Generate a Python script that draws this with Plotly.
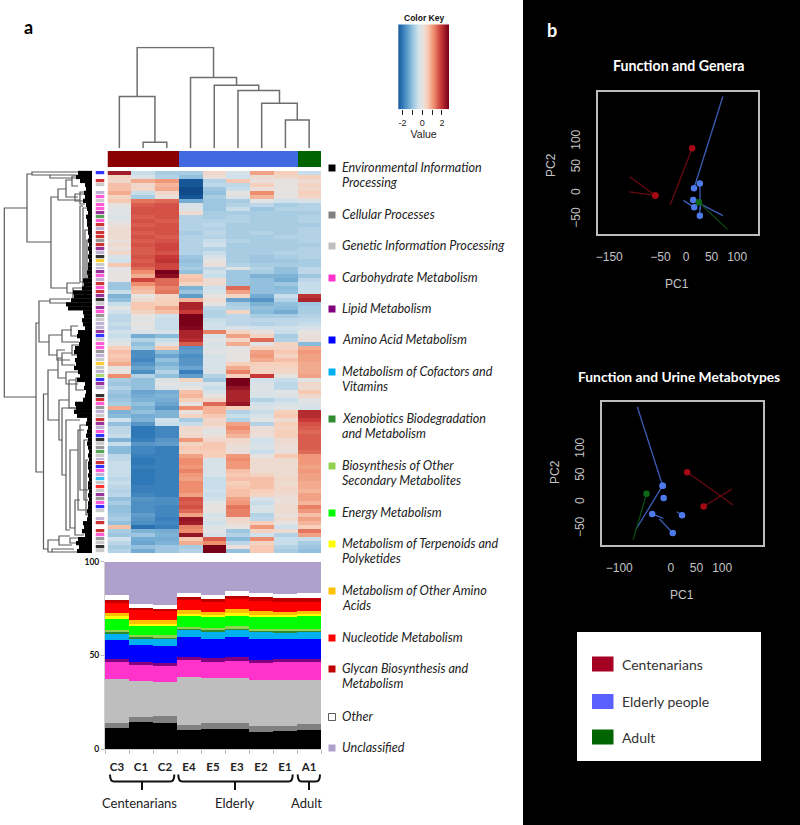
import plotly.graph_objects as go

W, H = 800, 825

# ---------- heatmap ----------
COLUMNS = ["C3", "C1", "C2", "E4", "E5", "E3", "E2", "E1", "A1"]
HEAT = [
[2.3,-.5,-.8,-.8,.3,-.3,1.0,.5,-.5],
[.4,-.2,-.7,-1.0,.1,-.4,.2,.3,.5],
[.3,.9,1.1,-2.5,-.7,.6,.1,0,.2],
[.7,.3,.8,-2.5,-.6,-.6,.5,0,.4],
[.7,.3,.9,-2.7,-.9,-.5,.1,0,.3],
[.9,-.5,.3,-2.7,-1.0,0,1.2,0,.5],
[.4,-.8,.1,-2.5,-.8,-.2,.8,0,.3],
[.6,1.4,1.5,-1.3,-.9,-.8,-.1,-.4,-.3],
[0,1.6,1.7,-.3,-.9,-.7,-.6,-.8,-.7],
[-.1,1.7,1.7,-.2,-.9,-.5,-.9,-.7,-.7],
[-.1,1.7,1.7,.2,-.8,-.8,-.8,-.8,-.8],
[-.2,1.6,1.7,-.7,-.8,-.7,-.8,-.8,-.7],
[-.1,1.7,1.6,-.7,-.7,-.7,-.8,-.8,-.7],
[.1,1.6,1.7,-.7,-.6,-.8,-.8,-.8,-.8],
[.2,1.7,1.7,-.7,-.7,-.8,-.8,-.8,-.7],
[.2,1.6,1.7,-.8,-.6,-.8,-.7,-.8,-.7],
[.2,1.7,1.6,-.7,-.7,-.8,-.8,-.7,-.7],
[.1,1.6,1.7,-.7,-.5,-.7,-.8,-.8,-.7],
[.2,1.7,1.8,-.7,-.4,-.8,-.8,-.8,-.8],
[.1,1.6,1.8,-.7,-.7,-.8,-.8,-.8,-.7],
[.3,1.6,1.7,-.7,-.5,-.8,-.8,-.7,-.7],
[-.3,1.7,1.9,-.9,-.3,-.8,-.9,-.8,-.7],
[-.4,1.6,2.0,-1.0,0,-.8,-.9,-.9,-.8],
[.6,1.7,1.8,-.9,.1,-.7,-.8,-.8,-.8],
[-.1,1.5,1.8,-.8,-.6,-.2,-.7,-1.0,-.6],
[0,1.2,2.8,-1.0,-.4,-.9,-.8,-1.0,-.6],
[0,.9,2.5,.6,-.5,-.9,-1.2,-1.2,-.9],
[0,1.8,1.5,.7,.2,-.9,-1.0,-1.3,-.6],
[-.9,1.2,1.5,.4,.2,-.9,-1.0,-.9,-.5],
[-.9,.8,1.3,-1.2,-.4,1.5,-1.0,-1.1,-.5],
[-.5,.7,1.4,-.9,-.3,1.0,-1.0,-1.0,-.5],
[-1.2,0,.4,-1.5,0,.4,-1.3,-.5,2.0],
[-1.0,.2,.5,.8,.2,-1.4,-1.6,-.7,2.2],
[-.5,.6,.5,2.2,0,-.8,-1.2,-1.0,-.9],
[-.1,.6,.9,2.2,-.6,-.7,-1.0,-1.1,-.8],
[-.4,.4,.7,1.9,-.7,.4,-1.1,-1.3,-.8],
[-.6,0,-.4,2.7,-.7,-.6,-.8,-.8,-.7],
[-.6,-.1,-.5,2.7,-.5,-.6,-.6,-.6,-.6],
[-.5,0,-.5,2.7,-.4,-.6,-.7,-.6,-.5],
[-.6,-.1,-.5,2.6,-.4,-.3,-.4,-.4,-.3],
[-.4,-.2,-.3,2.2,1.3,.4,.1,-.5,0],
[-.5,-1.3,-1.1,2.2,-.3,1.0,.4,-.8,.1],
[-.3,-.7,-.5,2.1,-.1,.3,1.5,-.7,.1],
[-.1,-1.0,-.2,1.6,-.2,.9,-.1,.4,-1.1],
[.5,-.8,.6,-1.6,-.2,-.1,.5,.4,.9],
[.7,-1.7,-1.1,-1.5,-.1,0,1.0,.6,1.1],
[.6,-1.7,-1.4,-1.7,-.3,0,1.1,.4,1.0],
[.7,-1.8,-1.0,-1.6,-.3,0,.9,.7,1.0],
[.9,-1.6,-1.2,-1.6,-.3,.5,.5,.5,.9],
[0,-1.4,-1.0,-1.4,-.3,.9,.4,.4,.9],
[0,-1.7,-.7,-1.9,-.2,1.3,.4,.3,.9],
[1.2,-.7,-1.0,-1.5,-.7,.5,1.9,0,1.0],
[-.8,-1.0,-.2,.4,-.9,2.7,-.4,-.5,-.1],
[-.9,-1.0,-.1,-.2,-.3,2.7,-.2,-.6,.3],
[-.7,-1.0,-.2,0,-.5,2.4,-.2,-.6,.2],
[-.9,-1.4,-1.3,.7,-.3,2.2,-.2,-.1,.6],
[-1.0,-1.3,-1.2,.8,0,2.2,-.3,-.2,.3],
[-.9,-1.2,-1.3,.5,.3,2.2,-.7,-.5,-.1],
[-.8,-1.0,-1.4,0,1.5,2.4,-.4,-.3,-.2],
[.9,-1.2,-1.6,1.2,.8,.5,-.2,-.1,-.3],
[-1.2,-1.0,-1.2,.1,.8,-.7,-.5,.5,2.1],
[-1.1,-1.3,-1.2,.4,.6,-.5,-.3,.6,2.1],
[-.4,-1.2,-.4,-.8,.3,-.7,-.1,.2,1.9],
[-1.0,-1.6,-.5,-.5,.4,1.0,-.7,.5,1.7],
[-.6,-2.0,-1.8,.3,.1,1.2,.1,.4,1.6],
[-.6,-2.0,-1.8,.2,-.1,1.0,.2,.5,1.5],
[-.5,-2.0,-1.8,.3,.1,.8,.1,.5,1.6],
[-1.2,-1.9,-1.6,1.1,.3,.3,-.4,.2,1.6],
[-.5,-1.6,-1.5,.4,.6,.2,-.3,.2,1.6],
[-1.1,-1.8,-1.9,.6,.6,.1,-.3,.1,1.6],
[-1.1,-1.8,-1.9,.5,.5,.1,-.5,.1,1.5],
[-.6,-1.9,-1.9,1.0,.5,1.1,0,.6,1.1],
[-.6,-2.0,-1.9,1.2,-.3,1.2,.2,.2,1.1],
[-.5,-2.0,-1.9,1.2,-.3,1.1,.2,.2,1.1],
[-.5,-1.9,-1.9,1.1,-.3,1.1,.2,.2,1.0],
[-.5,-2.0,-1.9,1.3,-.3,.7,.2,.2,1.1],
[-.5,-2.0,-1.9,1.1,-.3,.6,.4,.2,1.0],
[-.6,-2.0,-1.9,1.0,-.5,.7,.7,.3,1.0],
[-.5,-2.0,-1.9,1.2,-.5,.5,.7,.2,.9],
[-.6,-1.9,-1.9,1.2,-.5,.6,.7,.3,.9],
[-.7,-1.9,-1.9,1.2,-.4,.7,.5,.3,.8],
[-.6,-1.8,-1.9,1.0,-.5,.7,.4,.2,1.0],
[-1.0,-1.6,-1.7,1.7,-.4,1.0,-.3,.1,1.0],
[-.8,-1.7,-1.7,1.6,-.1,1.1,-.5,.1,.8],
[-1.0,-1.7,-1.8,1.7,0,1.4,-.3,.2,1.3],
[-1.0,-1.7,-1.8,1.5,0,1.3,-.3,.2,1.1],
[-.9,-1.5,-1.8,1.0,-.3,1.3,-.7,.1,.7],
[-.8,-1.6,-1.9,2.4,-.2,.3,-.6,.2,1.0],
[-1.0,-1.7,-1.8,2.3,-.4,.2,.5,0,.8],
[.7,-2.1,-1.9,1.3,-.2,0,1.1,-.4,.5],
[-.8,-1.2,-1.3,1.2,-.1,-.9,.4,.2,1.4],
[-.9,-.9,-1.2,2.4,-.3,-.7,-.4,-.7,1.0],
[-.4,-1.3,-1.3,.6,1.6,-1.1,1.2,-.5,-.5],
[-.6,-1.4,-1.2,.9,1.2,-.6,.4,-.5,-.8],
[-.8,-1.0,-.9,-.8,2.7,.1,.6,-.7,-.9],
[-.7,-1.3,-.9,-.7,2.7,-1.0,.6,-.8,-1.0],
]
HEAT_SCALE = [[0, "#0f4a8a"], [.13, "#2f78b8"], [.3, "#8bbcdb"], [.42, "#cfe1ec"], [.5, "#e6e2e0"],
              [.6, "#f8cfb9"], [.72, "#ef8f6f"], [.85, "#c93a38"], [1, "#780018"]]
KEY_VALUES = [-2.44 + i * 0.05 for i in range(104)]
KEY_TICKS = [-2, -1, 0, 1, 2]
KEY_LABELS = ["-2", "", "0", "", "2"]

# ---------- group bar and top dendrogram ----------
GROUP_CODE = [0, 0, 0, 1, 1, 1, 1, 1, 2]
GROUP_COLORS = ["#8b0000", "#4169e1", "#006400"]
# merge: (height, left position, right position, left child height, right child height)
TOP_MERGES = [
    (6, 1, 2, 0, 0),
    (51.7, 0, 1.5, 0, 6),
    (28.3, 7, 8, 0, 0),
    (45, 6, 7.5, 0, 28.3),
    (57.7, 5, 6.75, 0, 45),
    (63, 4, 5.875, 0, 57.7),
    (70.7, 3, 4.94, 0, 63),
    (100.7, 0.75, 3.97, 51.7, 70.7),
]

# ---------- left dendrogram ----------
# merge: (distance from root, top position, bottom position, top child distance, bottom child distance)
LEFT_MERGES = [
    (4.3, 208, 397, 27, 36), (27, 174, 242, 32, 51), (32, 172, 175, 78, 50), (50, 175, 178, 76, 78),
    (51, 197, 288, 58, 67), (58, 189, 200, 66, 80), (66, 180, 197, 72, 78), (72, 176, 186, 85, 78),
    (80, 192, 204, 88, 85), (75, 194, 201, 88, 88), (67, 283, 293, 80, 73), (80, 206, 282, 83, 88),
    (83, 208, 287, 88, 88), (85, 230, 295, 88, 88), (87, 240, 285, 88, 88), (73, 288, 300, 85, 78),
    (36, 323, 472, 39, 43.5), (39, 301, 342, 50, 49), (50, 299, 303, 70, 66), (49, 335, 355, 62, 57),
    (62, 330, 342, 72, 79), (57, 350, 360, 65, 70), (71, 326, 336, 78, 84), (72, 345, 355, 80, 84),
    (43.5, 394, 549, 48, 48), (48, 370, 420, 58, 59), (58, 358, 378, 62, 66), (62, 353, 365, 72, 75),
    (66, 372, 384, 80, 78), (59, 400, 440, 69, 62), (69, 380, 408, 76, 78), (76, 378, 390, 82, 84),
    (62, 408, 475, 88, 66), (66, 420, 530, 80, 70), (70, 450, 528, 78, 75), (78, 430, 510, 84, 86),
    (75, 500, 535, 80, 84), (80, 425, 490, 88, 88), (84, 440, 500, 88, 88), (86, 460, 515, 88, 88),
    (48, 540, 552, 59, 52), (59, 536, 545, 70, 72), (52, 549, 552, 74, 78), (70, 538, 543, 82, 84),
]
LEAF_START = [78,76,80,85,86,84,85,83,86,87,88,86,87,87,88,88,89,88,89,88,89,88,89,88,88,87,88,
              83,84,82,73,74,71,66,68,83,84,82,83,85,78,77,80,79,75,74,77,75,76,74,78,80,77,85,84,
              86,85,83,75,76,74,77,87,86,88,87,86,88,87,88,89,88,89,88,88,89,88,89,88,88,89,88,89,
              88,88,87,88,87,83,84,82,85,78,76,79,77]

# ---------- side colour strip ----------
CATEGORIES = ["Environmental Information Processing", "Cellular Processes", "Genetic Information Processing",
              "Carbohydrate Metabolism", "Lipid Metabolism", "Amino Acid Metabolism",
              "Metabolism of Cofactors and Vitamins", "Xenobiotics Biodegradation and Metabolism",
              "Biosynthesis of Other Secondary Metabolites", "Energy Metabolism",
              "Metabolism of Terpenoids and Polyketides", "Metabolism of Other Amino Acids",
              "Nucleotide Metabolism", "Glycan Biosynthesis and Metabolism", "Other", "Unclassified"]
CATEGORY_COLORS = ["#000000", "#808080", "#bebebe", "#ff33cc", "#800080", "#0000ff", "#00b0f0", "#2e8b2e",
                   "#92d050", "#00ff00", "#ffff00", "#ffc000", "#ff0000", "#c00000", "#ffffff", "#b0a0cc"]
SIDE_CODES = list("bwrgwumgmmpdmrurrcrpukogupmurmrpkgpmcguupbgmmcugogulbpuwkrmcugrpumbkgcdgurbmusgngpcmbgwurwrmcgkgewlbu")[:96]
SIDE_KEYS = "kcgmpbsdleyonrwu"

# ---------- composition ----------
ENV = [11.5, 14.7, 14.4, 10.7, 11.2, 11.2, 9.6, 9.9, 10.7]
CEL = [2.7, 2.7, 3.4, 2.4, 3.2, 2.8, 2.8, 2.9, 2.8]
GEN = [23.5, 19.2, 18.4, 25.8, 23.6, 24.0, 24.9, 24.5, 23.8]
CAR = [8.8, 8.4, 8.4, 8.9, 8.7, 9.4, 9.1, 9.4, 9.2]
LIP = [1.8, 1.7, 1.8, 1.8, 2.0, 2.2, 1.2, 1.4, 1.8]
AMI = [10.3, 8.9, 8.8, 10.6, 10.3, 10.4, 11.5, 11.0, 10.8]
COF = [3.4, 3.5, 3.8, 3.6, 3.9, 3.8, 3.6, 3.4, 3.4]
XEN = [0.9, 1.3, 1.0, 1.0, 0.9, 1.0, 0.9, 0.9, 1.1]
BIO = [0.8, 0.8, 0.9, 0.7, 0.8, 0.9, 0.9, 0.9, 0.9]
ENE = [5.9, 4.8, 4.8, 5.5, 5.9, 5.9, 6.2, 6.2, 6.5]
TER = [1.4, 1.1, 1.1, 1.1, 1.1, 1.0, 1.2, 1.1, 1.1]
OAA = [2.0, 2.2, 2.1, 2.1, 1.9, 2.2, 2.0, 1.9, 2.0]
NUC = [5.0, 4.9, 5.0, 5.4, 5.2, 5.3, 5.5, 5.4, 4.8]
GLY = [2.0, 1.3, 1.2, 1.7, 1.6, 1.9, 1.8, 1.9, 1.9]
OTH = [2.4, 2.1, 2.2, 2.4, 2.3, 2.5, 2.5, 2.3, 2.5]
UNC = [17.6, 22.4, 22.7, 16.3, 17.4, 15.5, 16.3, 16.9, 16.7]
STACK = [ENV, CEL, GEN, CAR, LIP, AMI, COF, XEN, BIO, ENE, TER, OAA, NUC, GLY, OTH, UNC]
STACK_TICKS = [0, 50, 100]

# ---------- PCA ----------
PCA_COLORS = {"c": ("#a30a14", "#650a10"), "e": ("#4d79ea", "#3c5cb4"), "a": ("#0e6a18", "#0d4a12")}
G_PTS = {"c": [(12, 87), (-60, -4), (-60, -4)],
         "e": [(15.6, 10), (27, 19), (14, -13), (16, -27), (27, -43)],
         "a": [(25, -17)]}
G_ENDS = {"c": [(-31, -22.5), (-110, 32), (-111, 3)],
          "e": [(72, 187), (28, -32), (72, -43), (-5, -13.5), (27, -27)],
          "a": [(81, -69.5)]}
M_PTS = {"c": [(32, 57), (64, -8)],
         "e": [(-15.7, 31.5), (-15.7, 31.5), (-13.7, 8), (-36, -22), (4, -58), (22, -24.6)],
         "a": [(-47, 16.4)]}
M_ENDS = {"c": [(121.6, -5), (119, 25)],
          "e": [(-65, 181), (-68, -52), (-13.7, 8), (-14.4, -30.3), (-22, -31.5), (12, -18)],
          "a": [(-73, -71)]}

LEGEND_LINES = [
    (168, ["Environmental Information", "Processing"], 0), (215, ["Cellular Processes"], 1),
    (246, ["Genetic Information Processing"], 2), (278, ["Carbohydrate Metabolism"], 3),
    (309, ["Lipid Metabolism"], 4), (340, ["Amino Acid Metabolism"], 5),
    (372, ["Metabolism of Cofactors and", "Vitamins"], 6), (419, ["Xenobiotics Biodegradation", "and Metabolism"], 7),
    (466, ["Biosynthesis of Other", "Secondary Metabolites"], 8), (513, ["Energy Metabolism"], 9),
    (544, ["Metabolism of Terpenoids and", "Polyketides"], 10), (591, ["Metabolism of Other Amino", "Acids"], 11),
    (638, ["Nucleotide Metabolism"], 12), (669, ["Glycan Biosynthesis and", "Metabolism"], 13),
    (717, ["Other"], 14), (748, ["Unclassified"], 15),
]


def dx(a, b):
    return [a / W, b / W]


def dy(a, b):
    return [1 - b / H, 1 - a / H]


fig = go.Figure()
ann = []
shapes = []


def text(x, y, s, size=12, color="#111", family="Lato", anchor="left", bold=False, italic=False, angle=0):
    ann.append(dict(x=x / W, y=1 - y / H, xref="paper", yref="paper", text=s, showarrow=False,
                    xanchor=anchor, yanchor="middle", textangle=angle,
                    font=dict(size=size, color=color, family=family, style="italic" if italic else "normal",
                              weight=700 if bold else 400)))


def rect(x0, y0, x1, y1, fill, line=None, layer="above"):
    shapes.append(dict(type="rect", xref="paper", yref="paper", x0=x0 / W, x1=x1 / W, y0=1 - y0 / H, y1=1 - y1 / H,
                       fillcolor=fill, line=dict(color=line or fill, width=0.8 if line else 0), layer=layer))


rect(523, 0, 800, 825, "#000000", layer="below")

# heatmap
fig.add_trace(go.Heatmap(z=HEAT, x=list(range(9)), y=list(range(len(HEAT))), zmin=-2.7, zmax=2.7,
                         colorscale=HEAT_SCALE, showscale=False, xaxis="x", yaxis="y", zsmooth=False))
# group strip
fig.add_trace(go.Heatmap(z=[GROUP_CODE], x=list(range(9)), y=[0], zmin=0, zmax=2, showscale=False, xaxis="x2", yaxis="y2",
                         colorscale=[[0, GROUP_COLORS[0]], [.33, GROUP_COLORS[0]], [.33, GROUP_COLORS[1]],
                                     [.67, GROUP_COLORS[1]], [.67, GROUP_COLORS[2]], [1, GROUP_COLORS[2]]]))
# top dendrogram
tx, ty = [], []
for h, a, b, ha, hb in TOP_MERGES:
    tx += [a, a, b, b, None]
    ty += [ha, h, h, hb, None]
fig.add_trace(go.Scatter(x=tx, y=ty, mode="lines", line=dict(color="#6e6e6e", width=1.5), xaxis="x3", yaxis="y3",
                         hoverinfo="skip"))
# left dendrogram
lx, ly = [], []
for d, a, b, da, db in LEFT_MERGES:
    lx += [da, d, d, db, None]
    ly += [a, a, b, b, None]
fig.add_trace(go.Scatter(x=lx, y=ly, mode="lines", line=dict(color="#5a5a5a", width=1.2), xaxis="x4", yaxis="y4",
                         hoverinfo="skip"))
fx, fy = [], []
for i, s in enumerate(LEAF_START):
    fx += [s, 92, None]
    fy += [171 + 3.98 * (i + .5)] * 2 + [None]
fig.add_trace(go.Scatter(x=fx, y=fy, mode="lines", line=dict(color="#000000", width=4.3), xaxis="x4", yaxis="y4",
                         hoverinfo="skip"))
# side strip
n = len(CATEGORY_COLORS)
side_scale = []
for i, c in enumerate(CATEGORY_COLORS):
    side_scale += [[i / n, c], [(i + 1) / n, c]]
fig.add_trace(go.Heatmap(z=[[SIDE_KEYS.index(c)] for c in SIDE_CODES], x=[0], y=list(range(len(SIDE_CODES))),
                         zmin=-.5, zmax=n - .5, colorscale=side_scale, showscale=False, xaxis="x5", yaxis="y5",
                         ygap=0.8, opacity=0.8))
# composition
for name, vals, col in zip(CATEGORIES, STACK, CATEGORY_COLORS):
    fig.add_trace(go.Bar(name=name, x=[i + .5 for i in range(9)], y=vals, width=1, marker=dict(color=col, line=dict(width=0)),
                         xaxis="x6", yaxis="y6"))
# colour key
fig.add_trace(go.Heatmap(z=[KEY_VALUES], x=KEY_VALUES, y=[0], zmin=-2.7, zmax=2.7, colorscale=HEAT_SCALE, showscale=False,
                         xaxis="x7", yaxis="y7"))


def pca(pts, ends, xa, ya):
    for k in pts:
        point, line = PCA_COLORS[k]
        xs, ys = [], []
        for p, e in zip(pts[k], ends[k]):
            xs += [p[0], e[0], None]
            ys += [p[1], e[1], None]
        fig.add_trace(go.Scatter(x=xs, y=ys, mode="lines", line=dict(color=line, width=1.3), xaxis=xa, yaxis=ya))
        fig.add_trace(go.Scatter(x=[p[0] for p in pts[k]], y=[p[1] for p in pts[k]], mode="markers",
                                 marker=dict(color=point, size=6.5), xaxis=xa, yaxis=ya))


pca(G_PTS, G_ENDS, "x8", "y8")
pca(M_PTS, M_ENDS, "x9", "y9")

hide = dict(visible=False, fixedrange=True)
grey = "#bdbdbd"
pca_x = dict(showgrid=False, zeroline=False, showline=True, mirror=True, linecolor=grey, linewidth=1.5,
             ticks="outside", ticklen=11, tickcolor="rgba(0,0,0,0)", tickfont=dict(family="Liberation Sans", size=12, color="#c4c4c4"))
pca_y = dict(pca_x, tickangle=-90)


def xa(n, **kw):
    return dict(anchor="y" + n, **kw)


def ya(n, **kw):
    return dict(anchor="x" + n, **kw)


fig.update_layout(
    width=W, height=H, margin=dict(l=0, r=0, t=0, b=0), paper_bgcolor="white", plot_bgcolor="rgba(0,0,0,0)",
    showlegend=False, barmode="stack", bargap=0,
    xaxis=dict(hide, domain=dx(107.5, 321), range=[-.5, 8.5]),
    yaxis=dict(hide, domain=dy(171, 553), range=[95.5, -.5]),
    xaxis2=xa("2", **hide, domain=dx(107.5, 321), range=[-.5, 8.5]),
    yaxis2=ya("2", **hide, domain=dy(151, 167), range=[-.5, .5]),
    xaxis3=xa("3", **hide, domain=dx(107.5, 321), range=[-.5, 8.5]),
    yaxis3=ya("3", **hide, domain=dy(46.7, 148.3), range=[0, 101.6]),
    xaxis4=xa("4", **hide, domain=dx(0, 92), range=[0, 92]),
    yaxis4=ya("4", **hide, domain=dy(165, 553), range=[553, 165]),
    xaxis5=xa("5", **hide, domain=dx(95.5, 104.5), range=[-.5, .5]),
    yaxis5=ya("5", **hide, domain=dy(171, 553), range=[95.5, -.5]),
    xaxis6=xa("6", domain=dx(105, 321), range=[0, 9], tickvals=[i + .5 for i in range(9)], ticktext=COLUMNS, ticks="",
              ticklabelstandoff=7, showgrid=False, zeroline=False, showline=True, linecolor="#cfcfcf", linewidth=1,
              tickfont=dict(family="Lato", size=11.5, color="#222", weight=700),
              minor=dict(tickvals=list(range(10)), ticks="outside", ticklen=4, tickcolor="#bbbbbb", tickwidth=1)),
    yaxis6=ya("6", domain=dy(561.7, 749.3), range=[0, 100], tickvals=STACK_TICKS, ticks="outside", ticklen=3, tickcolor="#bbbbbb",
              tickfont=dict(family="Lato", size=8.5, color="#111", weight=700), showgrid=False, zeroline=False,
              showline=True, linecolor="#cfcfcf", linewidth=1),
    xaxis7=xa("7", domain=dx(398.3, 449), range=[-2.44, 2.72], tickvals=KEY_TICKS, ticktext=KEY_LABELS, ticks="outside",
              ticklen=5, tickcolor="#222", tickfont=dict(family="Liberation Sans", size=9, color="#222"),
              title=dict(text="Value", standoff=1, font=dict(family="Liberation Sans", size=10.5, color="#222")),
              showgrid=False, zeroline=False),
    yaxis7=ya("7", **hide, domain=dy(24.3, 109.3), range=[-.5, .5]),
    xaxis8=xa("8", **pca_x, domain=dx(597.7, 758), range=[-172.5, 140.6], tickvals=[-150, -50, 0, 50, 100]),
    yaxis8=ya("8", **pca_y, domain=dy(92.3, 234.3), range=[-79, 195], tickvals=[-50, 0, 50, 100]),
    xaxis9=xa("9", **pca_x, domain=dx(602, 763.3), range=[-133.6, 180], tickvals=[-100, 0, 50, 100]),
    yaxis9=ya("9", **pca_y, domain=dy(402, 545.3), range=[-81.4, 190], tickvals=[-50, 0, 50, 100]),
)
fig.update_xaxes(automargin=False)
fig.update_yaxes(automargin=False)

# texts
text(29, 27, "a", 18, "#000", bold=True, anchor="center")
text(552, 30, "b", 18, "#fff", "Lato", bold=True, anchor="center")
text(423.5, 17.5, "Color Key", 8.5, "#111", "Liberation Sans", "center", True)
for y0, lines, idx in LEGEND_LINES:
    for j, s in enumerate(lines):
        text(340, y0 - 0.5 + 15.3 * j, s, 12.6, "#222222", italic=True)
    rect(328.5, y0 - 3.5, 335.5, y0 + 3.5, CATEGORY_COLORS[idx], "#333333" if idx == 14 else None)

# brackets
for a, b, c in [(110, 174.3, 142), (178.3, 292.7, 235), (297.7, 320, 309)]:
    p = f"M {a / W} {1 - 774.5 / H} Q {a / W} {1 - 781.5 / H} {(a + 4) / W} {1 - 781.5 / H} L {(b - 4) / W} {1 - 781.5 / H} " \
        f"Q {b / W} {1 - 781.5 / H} {b / W} {1 - 774.5 / H} M {c / W} {1 - 781.5 / H} L {c / W} {1 - 790 / H}"
    shapes.append(dict(type="path", path=p, xref="paper", yref="paper", line=dict(color="#111", width=2)))
text(139.3, 803, "Centenarians", 13, "#222", anchor="center")
text(234, 803, "Elderly", 13, "#222", anchor="center")
text(306.7, 803, "Adult", 13, "#222", anchor="center")

# PCA texts
text(679, 66, "Function and Genera", 14.2, "#fff", anchor="center", bold=True)
text(679, 376, "Function and Urine Metabotypes", 13.8, "#fff", anchor="center", bold=True)
text(677, 284, "PC1", 12, "#c4c4c4", "Liberation Sans", "center")
text(682, 595, "PC1", 12, "#c4c4c4", "Liberation Sans", "center")
text(551, 165, "PC2", 12, "#c4c4c4", "Liberation Sans", "center", angle=-90)
text(555, 472, "PC2", 12, "#c4c4c4", "Liberation Sans", "center", angle=-90)

# group legend
rect(577, 632, 761, 761, "#ffffff")
for y0, c, s in [(664, "#a50021", "Centenarians"), (701.5, "#5a5fff", "Elderly people"), (737, "#006400", "Adult")]:
    rect(592, y0 - 7.5, 613.5, y0 + 7.5, c)
    text(620, y0, s, 14, "#333")

fig.update_layout(annotations=ann, shapes=shapes)
fig.write_html("out.html", config={"displayModeBar": False},
               post_script="document.body.style.margin='0';document.documentElement.style.overflow='hidden';")
